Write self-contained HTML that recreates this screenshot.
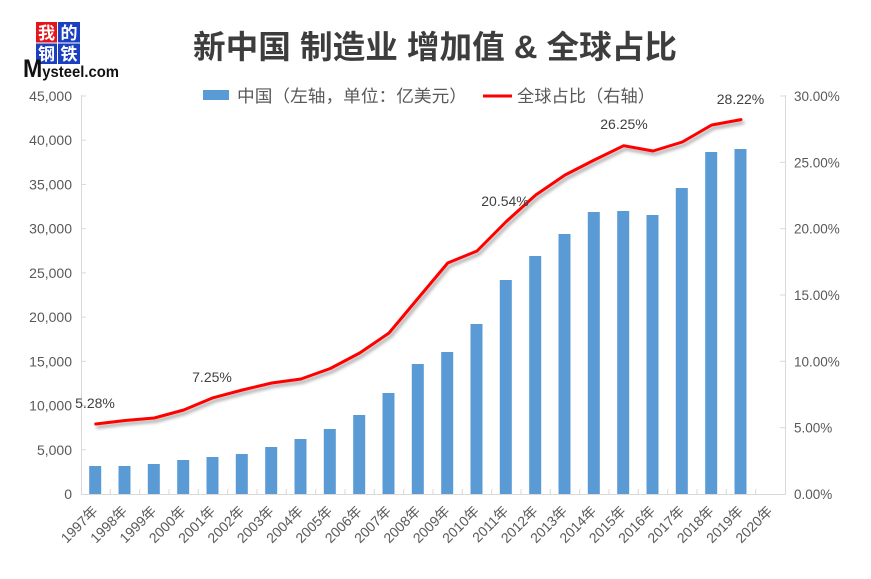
<!DOCTYPE html>
<html>
<head>
<meta charset="utf-8">
<style>
  html, body { margin:0; padding:0; background:#ffffff; }
  svg { display:block; }
  text { font-family: "Liberation Sans", "Noto Sans CJK SC", sans-serif; }
</style>
</head>
<body>
<svg width="871" height="579" viewBox="0 0 871 579" xmlns="http://www.w3.org/2000/svg">
  <defs>
    <filter id="sh" x="-10%" y="-10%" width="120%" height="130%">
      <feDropShadow dx="2" dy="3" stdDeviation="1.6" flood-color="#000" flood-opacity="0.35"/>
    </filter>
  </defs>
  <rect width="871" height="579" fill="#ffffff"/>

  <!-- Logo -->
  <rect x="36" y="22" width="21" height="20.5" fill="#e3141b"/>
  <rect x="58" y="22" width="22" height="20.5" fill="#1b3fc1"/>
  <rect x="36" y="43.5" width="21" height="20.5" fill="#1b3fc1"/>
  <rect x="58" y="43.5" width="22" height="20.5" fill="#1b3fc1"/>
  <text x="46.5" y="39" font-size="17" font-weight="bold" fill="#fff" text-anchor="middle">我</text>
  <text x="69" y="39" font-size="17" font-weight="bold" fill="#fff" text-anchor="middle">的</text>
  <text x="46.5" y="60" font-size="17" font-weight="bold" fill="#fff" text-anchor="middle">钢</text>
  <text x="69" y="60" font-size="17" font-weight="bold" fill="#fff" text-anchor="middle">铁</text>
  <text x="23" y="77" font-weight="bold" fill="#111" textLength="96" lengthAdjust="spacingAndGlyphs"><tspan font-size="25">M</tspan><tspan font-size="16">ysteel.com</tspan></text>

  <!-- Title -->
  <text x="193" y="58" font-size="32" font-weight="bold" fill="#3d3d3d" textLength="484" lengthAdjust="spacingAndGlyphs">新中国 制造业 增加值 &amp; 全球占比</text>

  <!-- Legend -->
  <rect x="203" y="90" width="26" height="10" fill="#5b9bd5"/>
  <text x="237" y="102" font-size="17" fill="#595959" textLength="230" lengthAdjust="spacingAndGlyphs">中国（左轴，单位：亿美元）</text>
  <line x1="483" y1="96" x2="512" y2="96" stroke="#ff0000" stroke-width="3"/>
  <text x="517" y="102" font-size="17" fill="#595959" textLength="138" lengthAdjust="spacingAndGlyphs">全球占比（右轴）</text>

  <!-- Axes -->
  <g stroke="#d9d9d9" stroke-width="1" fill="none">
    <line x1="81.5" y1="95" x2="81.5" y2="494"/>
    <line x1="785.5" y1="95" x2="785.5" y2="494"/>
    <line x1="81" y1="494.5" x2="786" y2="494.5"/>
    <!-- left ticks -->
    <line x1="81" y1="96" x2="86" y2="96"/>
    <line x1="81" y1="140.2" x2="86" y2="140.2"/>
    <line x1="81" y1="184.4" x2="86" y2="184.4"/>
    <line x1="81" y1="228.7" x2="86" y2="228.7"/>
    <line x1="81" y1="272.9" x2="86" y2="272.9"/>
    <line x1="81" y1="317.1" x2="86" y2="317.1"/>
    <line x1="81" y1="361.3" x2="86" y2="361.3"/>
    <line x1="81" y1="405.6" x2="86" y2="405.6"/>
    <line x1="81" y1="449.8" x2="86" y2="449.8"/>
    <!-- right ticks -->
    <line x1="780" y1="96" x2="785" y2="96"/>
    <line x1="780" y1="162.3" x2="785" y2="162.3"/>
    <line x1="780" y1="228.7" x2="785" y2="228.7"/>
    <line x1="780" y1="295" x2="785" y2="295"/>
    <line x1="780" y1="361.3" x2="785" y2="361.3"/>
    <line x1="780" y1="427.7" x2="785" y2="427.7"/>
    <!-- category ticks -->
    <line x1="110.3" y1="489" x2="110.3" y2="494"/>
    <line x1="139.7" y1="489" x2="139.7" y2="494"/>
    <line x1="169" y1="489" x2="169" y2="494"/>
    <line x1="198.3" y1="489" x2="198.3" y2="494"/>
    <line x1="227.7" y1="489" x2="227.7" y2="494"/>
    <line x1="257" y1="489" x2="257" y2="494"/>
    <line x1="286.3" y1="489" x2="286.3" y2="494"/>
    <line x1="315.7" y1="489" x2="315.7" y2="494"/>
    <line x1="345" y1="489" x2="345" y2="494"/>
    <line x1="374.3" y1="489" x2="374.3" y2="494"/>
    <line x1="403.7" y1="489" x2="403.7" y2="494"/>
    <line x1="433" y1="489" x2="433" y2="494"/>
    <line x1="462.3" y1="489" x2="462.3" y2="494"/>
    <line x1="491.7" y1="489" x2="491.7" y2="494"/>
    <line x1="521" y1="489" x2="521" y2="494"/>
    <line x1="550.3" y1="489" x2="550.3" y2="494"/>
    <line x1="579.7" y1="489" x2="579.7" y2="494"/>
    <line x1="609" y1="489" x2="609" y2="494"/>
    <line x1="638.3" y1="489" x2="638.3" y2="494"/>
    <line x1="667.7" y1="489" x2="667.7" y2="494"/>
    <line x1="697" y1="489" x2="697" y2="494"/>
    <line x1="726.3" y1="489" x2="726.3" y2="494"/>
    <line x1="755.7" y1="489" x2="755.7" y2="494"/>
  </g>

  <!-- Left axis labels -->
  <g font-size="14" fill="#595959" text-anchor="end">
    <text x="72" y="101">45,000</text>
    <text x="72" y="145.2">40,000</text>
    <text x="72" y="189.4">35,000</text>
    <text x="72" y="233.7">30,000</text>
    <text x="72" y="277.9">25,000</text>
    <text x="72" y="322.1">20,000</text>
    <text x="72" y="366.3">15,000</text>
    <text x="72" y="410.6">10,000</text>
    <text x="72" y="454.8">5,000</text>
    <text x="72" y="499">0</text>
  </g>

  <!-- Right axis labels -->
  <g font-size="13.5" fill="#595959">
    <text x="794" y="101">30.00%</text>
    <text x="794" y="167.3">25.00%</text>
    <text x="794" y="233.7">20.00%</text>
    <text x="794" y="300">15.00%</text>
    <text x="794" y="366.3">10.00%</text>
    <text x="794" y="432.7">5.00%</text>
    <text x="794" y="499">0.00%</text>
  </g>

  <!-- Bars -->
  <g fill="#5b9bd5">
    <rect x="89.2" y="466" width="12" height="28"/>
    <rect x="118.5" y="466" width="12" height="28"/>
    <rect x="147.8" y="464" width="12" height="30"/>
    <rect x="177.2" y="460" width="12" height="34"/>
    <rect x="206.5" y="457" width="12" height="37"/>
    <rect x="235.8" y="454" width="12" height="40"/>
    <rect x="265.2" y="447" width="12" height="47"/>
    <rect x="294.5" y="439" width="12" height="55"/>
    <rect x="323.8" y="429" width="12" height="65"/>
    <rect x="353.2" y="415" width="12" height="79"/>
    <rect x="382.5" y="393" width="12" height="101"/>
    <rect x="411.8" y="364" width="12" height="130"/>
    <rect x="441.2" y="352" width="12" height="142"/>
    <rect x="470.5" y="324" width="12" height="170"/>
    <rect x="499.8" y="280" width="12" height="214"/>
    <rect x="529.2" y="256" width="12" height="238"/>
    <rect x="558.5" y="234" width="12" height="260"/>
    <rect x="587.8" y="212" width="12" height="282"/>
    <rect x="617.2" y="211" width="12" height="283"/>
    <rect x="646.5" y="215" width="12" height="279"/>
    <rect x="675.8" y="188" width="12" height="306"/>
    <rect x="705.2" y="152" width="12" height="342"/>
    <rect x="734.5" y="149" width="12" height="345"/>
  </g>

  <!-- Line -->
  <polyline filter="url(#sh)" fill="none" stroke="#ff0000" stroke-width="3" stroke-linejoin="round" stroke-linecap="round"
    points="95.7,424 125,420.5 154.3,418 183.7,410 213,397.8 242.3,390 271.7,383 301,379 330.3,368.5 359.7,353 389,333 418.3,298 447.7,263 477,251 506.3,221.5 535.7,195 565,175 594.3,160 623.7,145.7 653,151 682.3,142 711.7,125 741,119.6"/>

  <!-- Data labels -->
  <g font-size="14" fill="#404040" text-anchor="middle">
    <text x="95" y="408">5.28%</text>
    <text x="212" y="382">7.25%</text>
    <text x="505" y="206">20.54%</text>
    <text x="624" y="129">26.25%</text>
    <text x="740.5" y="104">28.22%</text>
  </g>

  <!-- X axis labels -->
  <g font-size="14" fill="#595959" text-anchor="end">
    <text transform="translate(98.7,512) rotate(-45)">1997年</text>
    <text transform="translate(128,512) rotate(-45)">1998年</text>
    <text transform="translate(157.3,512) rotate(-45)">1999年</text>
    <text transform="translate(186.7,512) rotate(-45)">2000年</text>
    <text transform="translate(216,512) rotate(-45)">2001年</text>
    <text transform="translate(245.3,512) rotate(-45)">2002年</text>
    <text transform="translate(274.7,512) rotate(-45)">2003年</text>
    <text transform="translate(304,512) rotate(-45)">2004年</text>
    <text transform="translate(333.3,512) rotate(-45)">2005年</text>
    <text transform="translate(362.7,512) rotate(-45)">2006年</text>
    <text transform="translate(392,512) rotate(-45)">2007年</text>
    <text transform="translate(421.3,512) rotate(-45)">2008年</text>
    <text transform="translate(450.7,512) rotate(-45)">2009年</text>
    <text transform="translate(480,512) rotate(-45)">2010年</text>
    <text transform="translate(509.3,512) rotate(-45)">2011年</text>
    <text transform="translate(538.7,512) rotate(-45)">2012年</text>
    <text transform="translate(568,512) rotate(-45)">2013年</text>
    <text transform="translate(597.3,512) rotate(-45)">2014年</text>
    <text transform="translate(626.7,512) rotate(-45)">2015年</text>
    <text transform="translate(656,512) rotate(-45)">2016年</text>
    <text transform="translate(685.3,512) rotate(-45)">2017年</text>
    <text transform="translate(714.7,512) rotate(-45)">2018年</text>
    <text transform="translate(744,512) rotate(-45)">2019年</text>
    <text transform="translate(773.3,512) rotate(-45)">2020年</text>
  </g>
</svg>
</body>
</html>
